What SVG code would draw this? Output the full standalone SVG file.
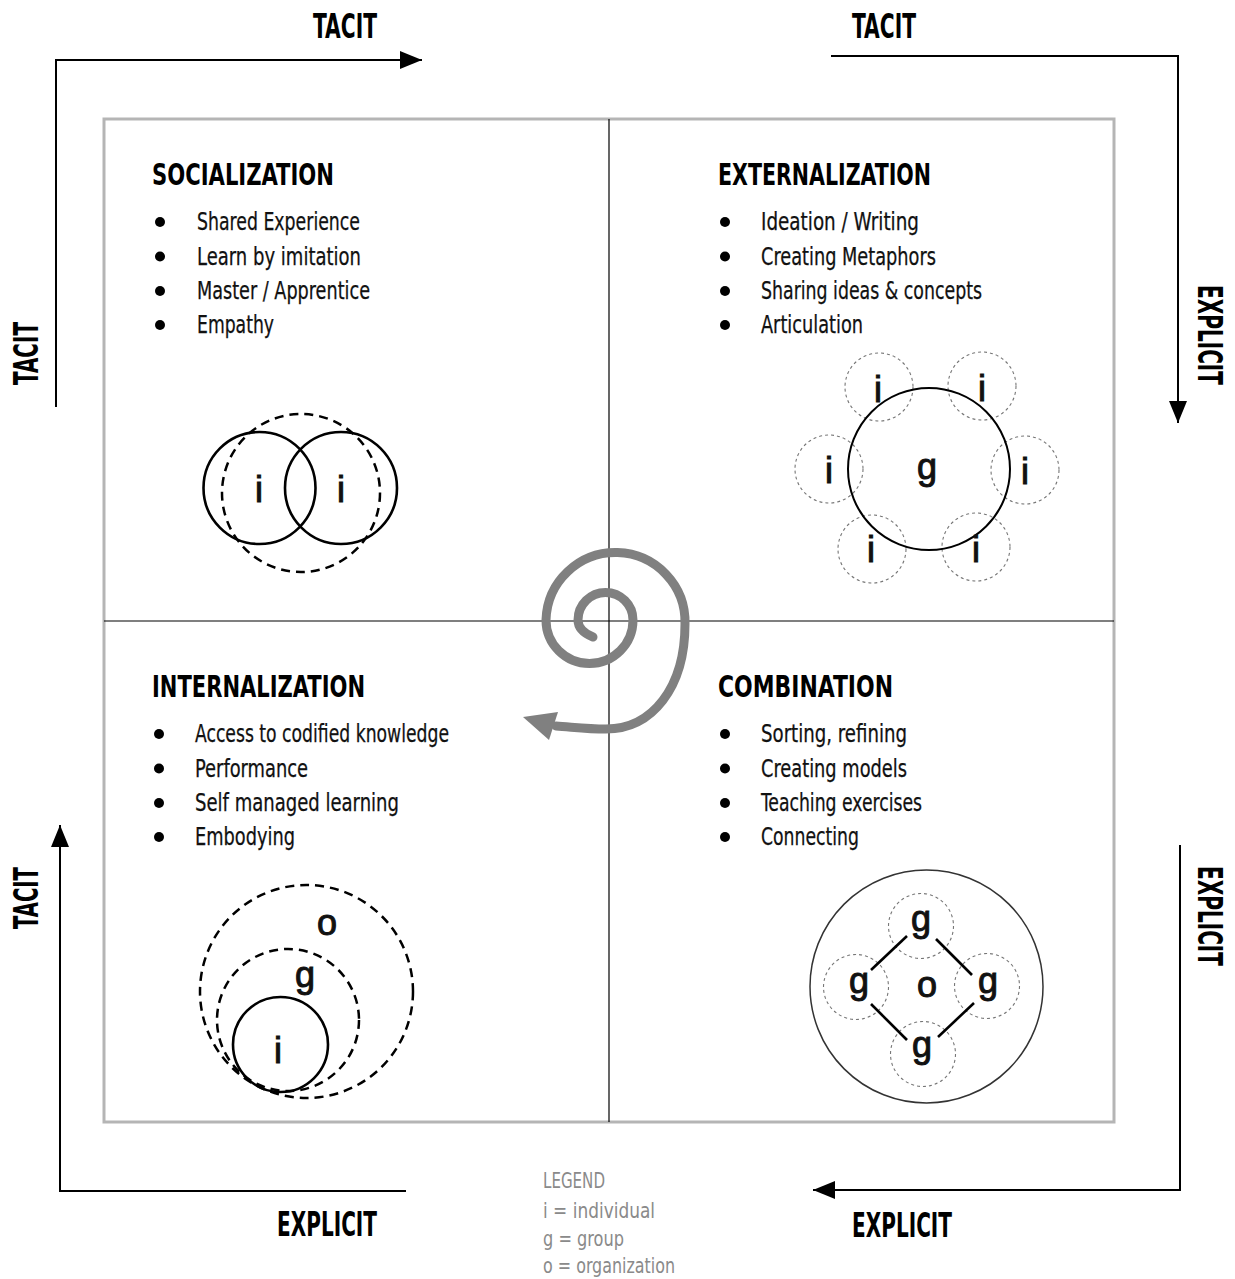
<svg xmlns="http://www.w3.org/2000/svg" width="1235" height="1279" viewBox="0 0 1235 1279">
<defs>
<style>
.ttl{font-family:"Liberation Sans Narrow","DejaVu Sans Condensed","Liberation Sans",sans-serif;font-weight:bold;font-size:31px;fill:#000}
.itm{font-family:"Liberation Sans Narrow","DejaVu Sans Condensed","Liberation Sans",sans-serif;font-size:24px;fill:#111;stroke:#111;stroke-width:0.25}
.ax{font-family:"Liberation Sans Narrow","DejaVu Sans Condensed","Liberation Sans",sans-serif;font-weight:bold;font-size:33px;fill:#000}
.lg{font-family:"Liberation Sans Narrow","DejaVu Sans Condensed","Liberation Sans",sans-serif;font-size:21px;fill:#8a8a8a}
.let{font-family:"Liberation Sans",Arial,sans-serif;font-size:36px;fill:#111;stroke:#111;stroke-width:1;text-anchor:middle}
.axis{fill:none;stroke:#000;stroke-width:2;marker-end:url(#ah)}
.solid{fill:none;stroke:#000;stroke-width:2.6}
.dash{fill:none;stroke:#000;stroke-width:2.5;stroke-dasharray:9 6}
.dot{fill:none;stroke:#777;stroke-width:1.1;stroke-dasharray:3 3}
.bul{fill:#000}
</style>
<marker id="ah" viewBox="0 0 22 18" refX="22" refY="9" markerWidth="22" markerHeight="18" markerUnits="userSpaceOnUse" orient="auto"><path d="M0,0 L22,9 L0,18 z" fill="#000"/></marker>
</defs>
<rect width="1235" height="1279" fill="#fff"/>

<g id="frame">
<rect x="104" y="119" width="1010" height="1003" fill="none" stroke="#b5b5b5" stroke-width="3"/>
<line x1="609" y1="119" x2="609" y2="1122" stroke="#000" stroke-width="1.2"/>
<line x1="104" y1="621" x2="1114" y2="621" stroke="#000" stroke-width="1.2"/>
</g>

<g id="connectors">
<path class="axis" d="M56,407 V60 H422"/>
<path class="axis" d="M831,56 H1178 V423"/>
<path class="axis" d="M1180,845 V1190 H813"/>
<path class="axis" d="M406,1191 H60 V825"/>
<path id="spiral" d="M593,637 C583,633 578,627 578,620 A27.5,27.5 0 0 1 633,620 A43.5,43.5 0 0 1 546,620 A69.5,69.5 0 0 1 685,624 C685,688 652,729 606,729 C587,729 572,727 556,726" fill="none" stroke="#808080" stroke-width="9" stroke-linecap="round"/>
<polygon points="523,717 558,712 549,740" fill="#808080"/>
</g>

<g id="axis-labels">
<text class="ax" x="313" y="38" textLength="64" lengthAdjust="spacingAndGlyphs">TACIT</text>
<text class="ax" x="852" y="38" textLength="64" lengthAdjust="spacingAndGlyphs">TACIT</text>
<text class="ax" x="277" y="1236" textLength="100" lengthAdjust="spacingAndGlyphs">EXPLICIT</text>
<text class="ax" x="852" y="1237" textLength="100" lengthAdjust="spacingAndGlyphs">EXPLICIT</text>
<text class="ax" transform="translate(1198,285) rotate(90)" x="0" y="0" textLength="100" lengthAdjust="spacingAndGlyphs">EXPLICIT</text>
<text class="ax" transform="translate(1198,866) rotate(90)" x="0" y="0" textLength="100" lengthAdjust="spacingAndGlyphs">EXPLICIT</text>
<text class="ax" transform="translate(38,385) rotate(-90)" x="0" y="0" textLength="63" lengthAdjust="spacingAndGlyphs">TACIT</text>
<text class="ax" transform="translate(38,929) rotate(-90)" x="0" y="0" textLength="62" lengthAdjust="spacingAndGlyphs">TACIT</text>
</g>

<g id="socialization">
<text class="ttl" x="152" y="185" textLength="182" lengthAdjust="spacingAndGlyphs">SOCIALIZATION</text>
<circle class="bul" cx="160" cy="222" r="5"/>
<circle class="bul" cx="160" cy="256.5" r="5"/>
<circle class="bul" cx="160" cy="291" r="5"/>
<circle class="bul" cx="160" cy="325" r="5"/>
<text class="itm" x="197" y="230" textLength="163" lengthAdjust="spacingAndGlyphs">Shared Experience</text>
<text class="itm" x="197" y="264.5" textLength="164" lengthAdjust="spacingAndGlyphs">Learn by imitation</text>
<text class="itm" x="197" y="299" textLength="173" lengthAdjust="spacingAndGlyphs">Master / Apprentice</text>
<text class="itm" x="197" y="333" textLength="77" lengthAdjust="spacingAndGlyphs">Empathy</text>
<circle class="solid" cx="259.5" cy="488" r="56"/>
<circle class="solid" cx="341" cy="488" r="56"/>
<circle class="dash" cx="301" cy="493" r="79"/>
<text class="let" x="259" y="502">i</text>
<text class="let" x="341" y="502">i</text>
</g>

<g id="externalization">
<text class="ttl" x="718" y="185" textLength="213" lengthAdjust="spacingAndGlyphs">EXTERNALIZATION</text>
<circle class="bul" cx="725" cy="222" r="5"/>
<circle class="bul" cx="725" cy="256.5" r="5"/>
<circle class="bul" cx="725" cy="291" r="5"/>
<circle class="bul" cx="725" cy="325" r="5"/>
<text class="itm" x="761" y="230" textLength="158" lengthAdjust="spacingAndGlyphs">Ideation / Writing</text>
<text class="itm" x="761" y="264.5" textLength="175" lengthAdjust="spacingAndGlyphs">Creating Metaphors</text>
<text class="itm" x="761" y="299" textLength="221" lengthAdjust="spacingAndGlyphs">Sharing ideas &amp; concepts</text>
<text class="itm" x="761" y="333" textLength="102" lengthAdjust="spacingAndGlyphs">Articulation</text>
<circle class="dot" cx="879" cy="387" r="34"/>
<circle class="dot" cx="982" cy="386" r="34"/>
<circle class="dot" cx="829" cy="469" r="34"/>
<circle class="dot" cx="1025" cy="470" r="34"/>
<circle class="dot" cx="872" cy="549" r="34"/>
<circle class="dot" cx="976" cy="547" r="34"/>
<circle fill="none" stroke="#000" stroke-width="2" cx="929" cy="469" r="81"/>
<text class="let" x="927" y="479" font-size="34">g</text>
<text class="let" x="878" y="402">i</text>
<text class="let" x="982" y="401">i</text>
<text class="let" x="829" y="483">i</text>
<text class="let" x="1025" y="484">i</text>
<text class="let" x="871" y="562">i</text>
<text class="let" x="976" y="562">i</text>
</g>

<g id="internalization">
<text class="ttl" x="152" y="697" textLength="213" lengthAdjust="spacingAndGlyphs">INTERNALIZATION</text>
<circle class="bul" cx="159" cy="734" r="5"/>
<circle class="bul" cx="159" cy="768.5" r="5"/>
<circle class="bul" cx="159" cy="803" r="5"/>
<circle class="bul" cx="159" cy="837" r="5"/>
<text class="itm" x="195" y="742" textLength="254" lengthAdjust="spacingAndGlyphs">Access to codified knowledge</text>
<text class="itm" x="195" y="776.5" textLength="113" lengthAdjust="spacingAndGlyphs">Performance</text>
<text class="itm" x="195" y="811" textLength="204" lengthAdjust="spacingAndGlyphs">Self managed learning</text>
<text class="itm" x="195" y="845" textLength="100" lengthAdjust="spacingAndGlyphs">Embodying</text>
<circle class="dash" cx="306.5" cy="991.5" r="106.5"/>
<circle class="dash" cx="288" cy="1020" r="71"/>
<circle class="solid" cx="280.5" cy="1044.5" r="47.5"/>
<text class="let" x="278" y="1063">i</text>
<text class="let" x="305" y="987">g</text>
<text class="let" x="327" y="935">o</text>
</g>

<g id="combination">
<text class="ttl" x="718" y="697" textLength="175" lengthAdjust="spacingAndGlyphs">COMBINATION</text>
<circle class="bul" cx="725" cy="734" r="5"/>
<circle class="bul" cx="725" cy="768.5" r="5"/>
<circle class="bul" cx="725" cy="803" r="5"/>
<circle class="bul" cx="725" cy="837" r="5"/>
<text class="itm" x="761" y="742" textLength="146" lengthAdjust="spacingAndGlyphs">Sorting, refining</text>
<text class="itm" x="761" y="776.5" textLength="146" lengthAdjust="spacingAndGlyphs">Creating models</text>
<text class="itm" x="761" y="811" textLength="161" lengthAdjust="spacingAndGlyphs">Teaching exercises</text>
<text class="itm" x="761" y="845" textLength="98" lengthAdjust="spacingAndGlyphs">Connecting</text>
<circle fill="none" stroke="#333" stroke-width="1.5" cx="926.5" cy="986.5" r="116.5"/>
<circle class="dot" cx="921" cy="926" r="32.5"/>
<circle class="dot" cx="856" cy="987" r="32.5"/>
<circle class="dot" cx="987" cy="986" r="32.5"/>
<circle class="dot" cx="923" cy="1054" r="32.5"/>
<g stroke="#000" stroke-width="2.6">
<line x1="907" y1="936" x2="871" y2="970"/>
<line x1="936" y1="939" x2="972" y2="975"/>
<line x1="871" y1="1004" x2="907" y2="1040"/>
<line x1="974" y1="1003" x2="938" y2="1037"/>
</g>
<text class="let" x="921" y="931" font-size="38">g</text>
<text class="let" x="859" y="993" font-size="38">g</text>
<text class="let" x="988" y="993" font-size="38">g</text>
<text class="let" x="922" y="1057" font-size="38">g</text>
<text class="let" x="927" y="997">o</text>
</g>

<g id="legend">
<text class="lg" x="543" y="1188" textLength="62" lengthAdjust="spacingAndGlyphs">LEGEND</text>
<text class="lg" x="543" y="1218" textLength="112" lengthAdjust="spacingAndGlyphs">i  = individual</text>
<text class="lg" x="543" y="1246" textLength="81" lengthAdjust="spacingAndGlyphs">g = group</text>
<text class="lg" x="543" y="1273" textLength="132" lengthAdjust="spacingAndGlyphs">o = organization</text>
</g>
</svg>
